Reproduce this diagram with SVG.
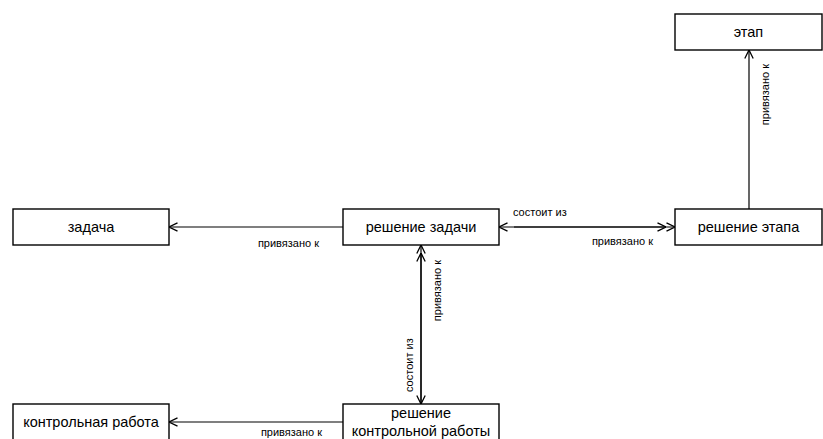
<svg xmlns="http://www.w3.org/2000/svg" width="823" height="439" viewBox="0 0 823 439">
<style>
.box{fill:#fff;stroke:#000;stroke-width:1.4}
.nt{font-family:"Liberation Sans",Arial,sans-serif;font-size:14.5px;fill:#000;text-anchor:middle}
.lt{font-family:"Liberation Sans",Arial,sans-serif;font-size:11px;fill:#000}
.ln{fill:none;stroke:#000;stroke-width:1.2}
</style>
<defs>
<marker id="arr" viewBox="0 0 10 10" refX="10" refY="5" markerWidth="10" markerHeight="10" markerUnits="userSpaceOnUse" orient="auto-start-reverse">
<path d="M1.5,0.8 L10,5 L1.5,9.2" fill="none" stroke="#000" stroke-width="1.3"/>
</marker>
</defs>
<rect width="823" height="439" fill="#fff"/>
<g id="connectors">
<line class="ln" x1="343" y1="227" x2="169" y2="227" marker-end="url(#arr)"/>
<line class="ln" x1="499" y1="227" x2="675" y2="227" marker-start="url(#arr)" marker-end="url(#arr)"/>
<line class="ln" x1="514" y1="227" x2="666" y2="227" marker-end="url(#arr)"/>
<line class="ln" x1="749" y1="209" x2="749" y2="50" marker-end="url(#arr)"/>
<line class="ln" x1="421" y1="245" x2="421" y2="404" marker-start="url(#arr)" marker-end="url(#arr)"/>
<line class="ln" x1="421" y1="280" x2="421" y2="253" marker-end="url(#arr)"/>
<line class="ln" x1="421" y1="280" x2="421" y2="404"/>
<line class="ln" x1="343" y1="422" x2="169" y2="422" marker-end="url(#arr)"/>
<text class="lt" x="319" y="247" text-anchor="end">привязано к</text>
<text class="lt" x="513" y="216">состоит из</text>
<text class="lt" x="653" y="245" text-anchor="end">привязано к</text>
<text class="lt" transform="translate(769,64) rotate(-90)" text-anchor="end">привязано к</text>
<text class="lt" transform="translate(441,260) rotate(-90)" text-anchor="end">привязано к</text>
<text class="lt" transform="translate(413,392) rotate(-90)">состоит из</text>
<text class="lt" x="322" y="436" text-anchor="end">привязано к</text>
</g>
<g id="etap"><rect class="box" x="675" y="14" width="147" height="36"/><text class="nt" x="748.5" y="37">этап</text></g>
<g id="zadacha"><rect class="box" x="13" y="209" width="156" height="36"/><text class="nt" x="91" y="232">задача</text></g>
<g id="reshenie-zadachi"><rect class="box" x="343" y="209" width="156" height="36"/><text class="nt" x="421" y="232">решение задачи</text></g>
<g id="reshenie-etapa"><rect class="box" x="675" y="209" width="147" height="36"/><text class="nt" x="748.5" y="232">решение этапа</text></g>
<g id="kontrolnaya-rabota"><rect class="box" x="13" y="404" width="156" height="36"/><text class="nt" x="91" y="427">контрольная работа</text></g>
<g id="reshenie-kr"><rect class="box" x="343" y="404" width="156" height="36"/><text class="nt" x="421" y="418">решение</text><text class="nt" x="421" y="436">контрольной работы</text></g>
</svg>
